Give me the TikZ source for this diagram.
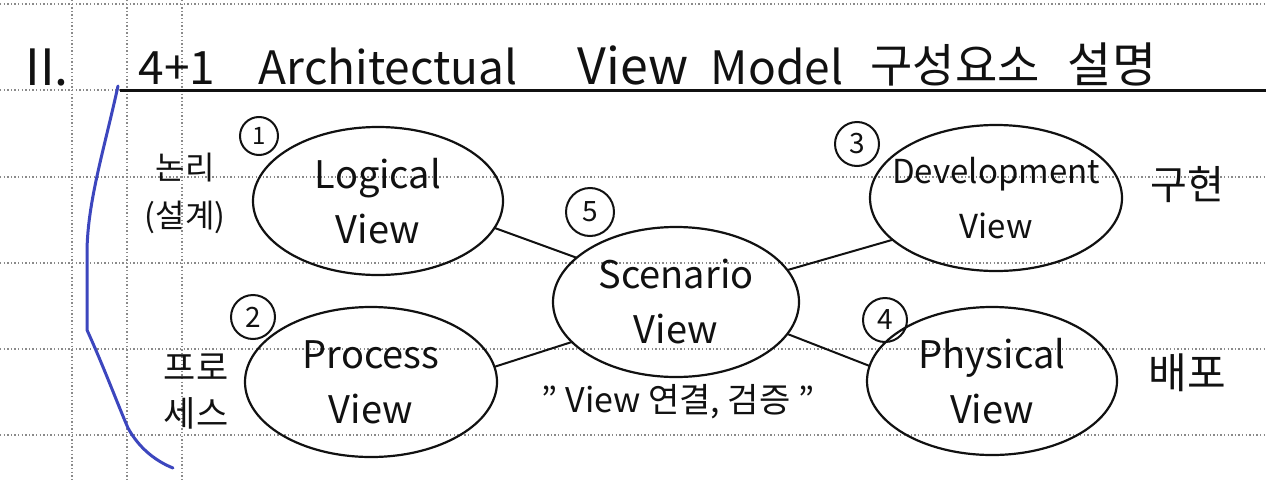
\documentclass[tikz,border=0pt]{standalone}
\usepackage{fontspec}
\setmainfont{Noto Sans CJK KR}
\usetikzlibrary{shapes.geometric}
\definecolor{pen}{HTML}{111111}
\definecolor{bluepen}{HTML}{3C46BE}
\definecolor{gridc}{HTML}{8A8A8A}
\begin{document}
\begin{tikzpicture}[x=1pt,y=-1pt,
  grid/.style={draw=gridc, line width=1.3pt, dash pattern=on 1.3pt off 2.3pt},
  view/.style={ellipse, draw=pen, line width=2.2pt, inner sep=0pt, outer sep=0pt},
  vtext/.style={align=center, text=pen, font=\fontsize{38}{55}\selectfont},
  num/.style={circle, draw=pen, line width=2pt, minimum size=44pt, inner sep=0pt, text=pen, font=\fontsize{28}{28}\selectfont},
  kor/.style={align=center, text=pen, font=\fontsize{32}{48}\selectfont},
  link/.style={draw=pen, line width=2pt},
  ttl/.style={anchor=base, text=pen, inner sep=0pt, font=\fontsize{46}{46}\selectfont}
]
\useasboundingbox (0,0) rectangle (1266,482);
\fill[white] (0,0) rectangle (1266,482);
% notebook grid
\foreach \yy in {4,90,177,263,349,435} \draw[grid] (0,\yy) -- (1266,\yy);
\foreach \xx in {72,127,182} \draw[grid] (\xx,0) -- (\xx,482);
% title
\draw[pen, line width=3pt] (120,90) -- (1266,90);
\node[ttl, font=\fontsize{50}{50}\selectfont] (t0) at (47,85) {II.};
\node[ttl] (t1) at (177,84) {4+1};
\node[ttl] (t2) at (388,84) {Architectual};
\node[ttl, font=\fontsize{50}{50}\selectfont] (t3) at (633,84) {View};
\node[ttl] (t4) at (777,84) {Model};
\node[ttl] (t5) at (955,82) {구성요소};
\node[ttl, font=\fontsize{48}{48}\selectfont] (t6) at (1112,82) {설명};
% blue margin stroke
\draw[bluepen, line width=3pt, line cap=round, line join=round]
  (118,86) .. controls (104,150) and (88,200) .. (87,250) -- (87,330)
  .. controls (103,365) and (118,405) .. (128,428)
  .. controls (140,450) and (158,462) .. (173,468);
% views
\node[view, minimum width=250pt, minimum height=148pt] (L) at (378,201) {};
\node[view, minimum width=252pt, minimum height=150pt] (P) at (371,382) {};
\node[view, minimum width=252pt, minimum height=146pt] (D) at (996,198) {};
\node[view, minimum width=250pt, minimum height=148pt] (H) at (992,381) {};
\node[view, minimum width=246pt, minimum height=150pt] (S) at (676,302) {};
\node[vtext] (Lt) at (L) {Logical\\View};
\node[vtext] (Pt) at (P) {Process\\View};
\node[vtext, font=\fontsize{33}{55}\selectfont] (Dt) at (D) {Development\\View};
\node[vtext] (Ht) at (H) {Physical\\View};
\node[vtext] (St) at (S) {Scenario\\View};
% connectors
\draw[link] (L.-13) -- (S.156);
\draw[link] (P.7) -- (S.201);
\draw[link] (D.202) -- (S.16);
\draw[link] (H.173) -- (S.-16);
% numbers
\node[num, minimum size=38pt, font=\fontsize{24}{24}\selectfont] (n1) at (259,136) {1};
\node[num] (n2) at (253,317) {2};
\node[num] (n3) at (857,144) {3};
\node[num] (n4) at (885,320) {4};
\node[num, minimum size=48pt] (n5) at (590,212) {5};
% side labels
\node[kor] (k1) at (185,193) {논리\\(설계)};
\node[kor, font=\fontsize{35}{46}\selectfont] (k2) at (196,392) {프로\\세스};
\node[kor, font=\fontsize{40}{40}\selectfont] (k3) at (1187,185) {구현};
\node[kor, font=\fontsize{42}{42}\selectfont] (k4) at (1187,373) {배포};
\node[kor, font=\fontsize{34}{40}\selectfont] (k5) at (678,402) {" View 연결, 검증 "};
\end{tikzpicture}
\end{document}
